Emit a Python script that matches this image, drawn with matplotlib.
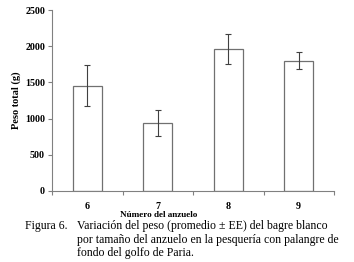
import matplotlib
matplotlib.use("Agg")
import matplotlib.pyplot as plt
import numpy as np

categories = ["6", "7", "8", "9"]
values = [1455, 943, 1960, 1800]
errors = [280, 180, 205, 115]
yticks = [0, 500, 1000, 1500, 2000, 2500]

plt.rcParams['font.family'] = ['Liberation Serif', 'DejaVu Serif']

fig = plt.figure(figsize=(3.54, 2.62), dpi=100)
ax = fig.add_axes([52/354, 1-191/262, (334-52)/354, (191-10)/262])

x = np.arange(len(categories))
ax.bar(x, values, width=0.41, color='white', edgecolor='#707070', linewidth=0.9,
       yerr=errors, error_kw=dict(ecolor='#404040', elinewidth=0.8, capsize=2.5, capthick=0.8))

ax.set_xlim(-0.5, len(categories) - 0.5)
ax.set_ylim(0, 2500)
ax.set_yticks(yticks)
ax.set_yticklabels([str(v) for v in yticks], fontsize=7.2, fontweight='bold')
ax.set_xticks(x)
ax.set_xticklabels(categories, fontsize=7.2, fontweight='bold')
ax.tick_params(axis='x', length=0, pad=8)
ax.set_xticks(np.arange(-0.5, len(categories)), minor=True)
ax.tick_params(axis='x', which='minor', length=3, color='#808080', width=0.8)
ax.tick_params(axis='y', length=3, color='#808080', width=0.8, pad=2)
for s in ['top', 'right']:
    ax.spines[s].set_visible(False)
for s in ['left', 'bottom']:
    ax.spines[s].set_color('#808080')
    ax.spines[s].set_linewidth(0.8)

ax.set_ylabel("Peso total (g)", fontsize=7.5, fontweight='bold', labelpad=3)
ax.set_xlabel("Número del anzuelo", fontsize=6.6, fontweight='bold')
ax.xaxis.set_label_coords(0.38, -0.11)

fig.text(25/354, 1-226/262, "Figura 6.", fontsize=8.5, va='center', ha='left')
cap = ["Variación del peso (promedio ± EE) del bagre blanco",
       "por tamaño del anzuelo en la pesquería con palangre de",
       "fondo del golfo de Paria."]
for i, line in enumerate(cap):
    fig.text(77/354, 1-(226 + i*13.5)/262, line, fontsize=8.5, va='center', ha='left')

fig.savefig("out.png", dpi=100)
